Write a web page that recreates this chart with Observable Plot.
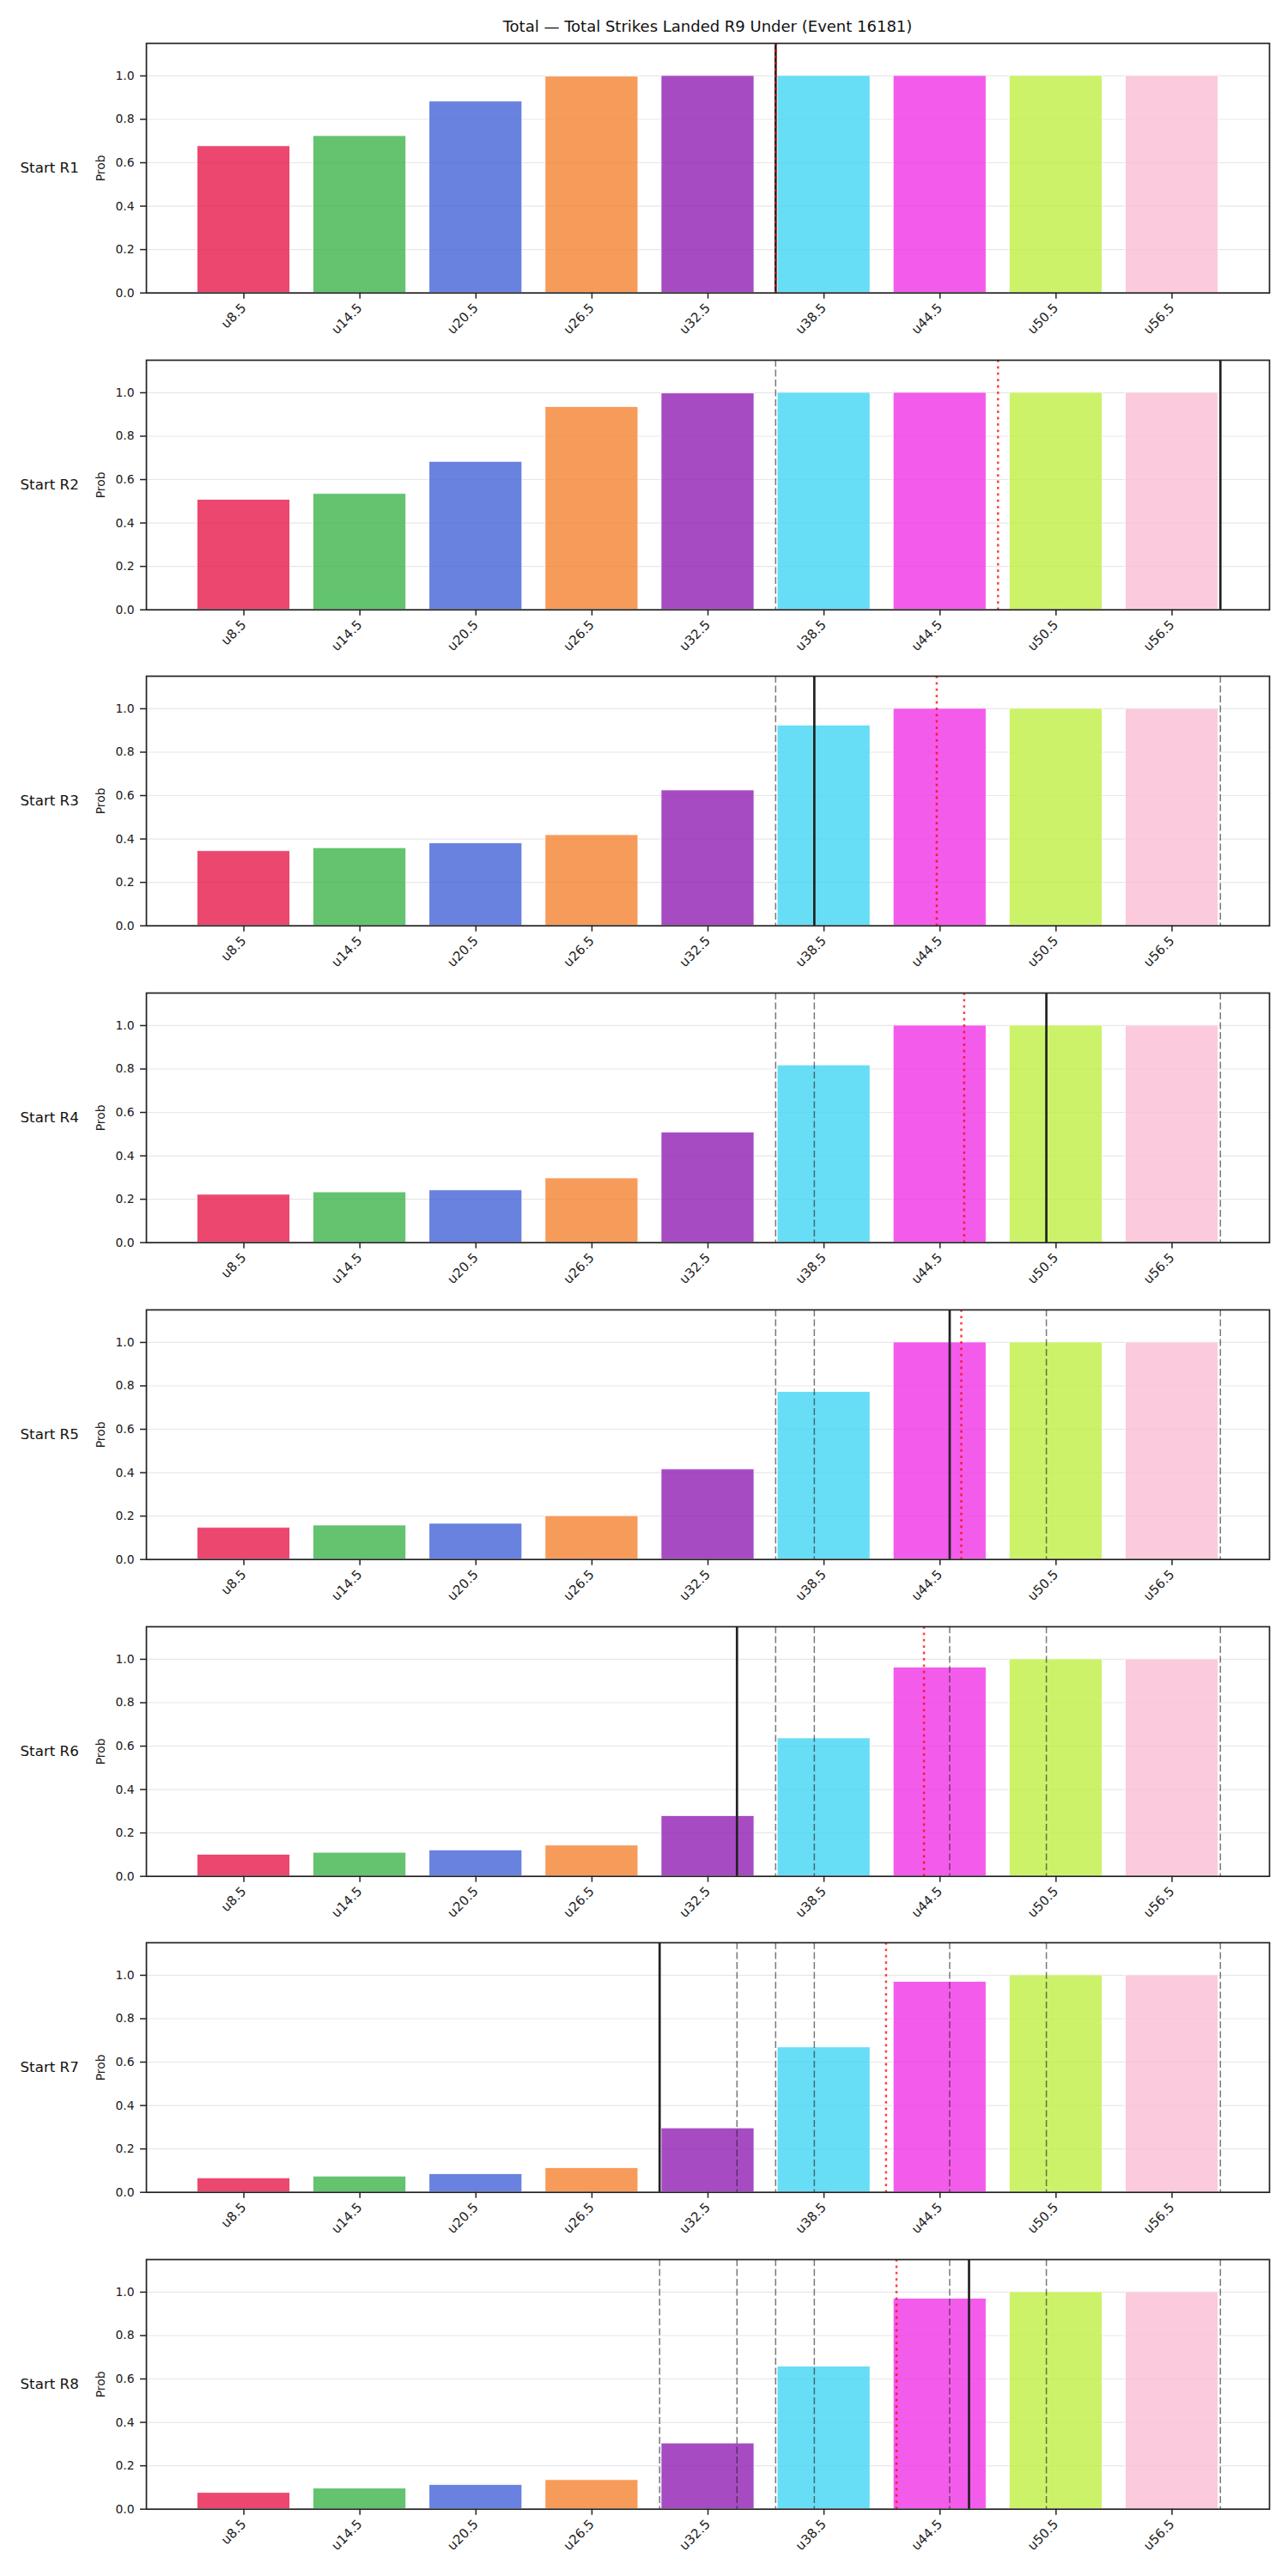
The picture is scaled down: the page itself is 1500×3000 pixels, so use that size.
<!DOCTYPE html>
<html>
<head>
<meta charset="utf-8">
<script src="https://cdn.jsdelivr.net/npm/d3@7"></script>
<script src="https://cdn.jsdelivr.net/npm/@observablehq/plot@0.6"></script>
<style>
  body { margin: 0; background: #fff; font-family: "DejaVu Sans", sans-serif; }
  #chart { position: relative; width: 1500px; height: 3000px; }
  #title { position: absolute; left: 324px; width: 1000px; top: 20px; line-height: 22px;
           text-align: center; font-size: 18px; color: #111; }
  .panel { position: absolute; left: 0; }
</style>
</head>
<body>
<div id="chart">
  <div id="title">Total — Total Strikes Landed R9 Under (Event 16181)</div>
</div>
<script>
// Under lines for total strikes landed, and the bar colour of each line
const thresholds = [8.5, 14.5, 20.5, 26.5, 32.5, 38.5, 44.5, 50.5, 56.5];
const tickLabels = ["u8.5", "u14.5", "u20.5", "u26.5", "u32.5", "u38.5", "u44.5", "u50.5", "u56.5"];
const barColors = ["#e6194b", "#3cb44b", "#4363d8", "#f58231", "#911eb4",
                   "#42d4f4", "#f032e6", "#bfef45", "#fabed4"];

// One row per starting round
const rounds = ["Start R1", "Start R2", "Start R3", "Start R4",
                "Start R5", "Start R6", "Start R7", "Start R8"];

// Probability of the Under for each line, from each starting round
const probR1 = [0.676, 0.723, 0.882, 0.997, 1.000, 1.000, 1.000, 1.000, 1.000];
const probR2 = [0.507, 0.534, 0.682, 0.934, 0.997, 1.000, 1.000, 1.000, 1.000];
const probR3 = [0.344, 0.358, 0.380, 0.418, 0.624, 0.923, 1.000, 1.000, 1.000];
const probR4 = [0.221, 0.232, 0.241, 0.296, 0.508, 0.817, 1.000, 1.000, 1.000];
const probR5 = [0.146, 0.157, 0.165, 0.200, 0.415, 0.772, 1.000, 1.000, 1.000];
const probR6 = [0.100, 0.109, 0.120, 0.142, 0.278, 0.636, 0.962, 1.000, 1.000];
const probR7 = [0.065, 0.073, 0.084, 0.112, 0.295, 0.668, 0.970, 1.000, 1.000];
const probR8 = [0.075, 0.095, 0.112, 0.134, 0.303, 0.657, 0.970, 1.000, 1.000];
const probs = [probR1, probR2, probR3, probR4, probR5, probR6, probR7, probR8];

// Observed total for each round (solid), and the running average (red dotted)
const actualTotals = [36, 59, 38, 50, 45, 34, 30, 46];
const runningMean = [36, 47.5, 44.33, 45.75, 45.6, 43.67, 41.71, 42.25];

const yTicks = [0, 0.2, 0.4, 0.6, 0.8, 1.0];

// Bars are 0.8 of the spacing between lines; axis padded by 5% either side
const step = thresholds[1] - thresholds[0];
const half = 0.4 * step;
const lo = thresholds[0] - half, hi = thresholds[thresholds.length - 1] + half;
const pad = 0.05 * (hi - lo);
const xDomain = [lo - pad, hi + pad];

const W = 1500, H = 368.7;
const M = {left: 170, right: 22, top: 10, bottom: 68};

function panel(i) {
  const rows = thresholds.map((t, j) => ({t, p: probs[i][j], color: barColors[j]}));
  return Plot.plot({
    width: W, height: H,
    marginLeft: M.left, marginRight: M.right, marginTop: M.top, marginBottom: M.bottom,
    style: {fontFamily: "DejaVu Sans", fontSize: "13.9px", color: "#222", background: "white", overflow: "visible"},
    x: {type: "linear", domain: xDomain},
    y: {domain: [0, 1.15]},
    color: {type: "identity"},
    marks: [
      Plot.gridY(yTicks, {stroke: "#b0b0b0", strokeOpacity: 0.3, strokeWidth: 1.1}),
      Plot.rectY(rows, {
        x1: d => d.t - half, x2: d => d.t + half, y1: 0, y2: "p",
        fill: "color", fillOpacity: 0.8, stroke: "white", strokeWidth: 0.8
      }),
      Plot.ruleX(actualTotals.slice(0, i), {stroke: "#222", strokeOpacity: 0.6, strokeWidth: 1.5, strokeDasharray: "8,3.5"}),
      Plot.ruleX([actualTotals[i]], {stroke: "#222", strokeWidth: 2.7}),
      Plot.ruleX([runningMean[i]], {stroke: "red", strokeOpacity: 0.75, strokeWidth: 2.5, strokeDasharray: "2.8,4.6"}),
      Plot.frame({stroke: "#222", strokeWidth: 1.7}),
      Plot.axisX(thresholds, {
        tickFormat: d => tickLabels[thresholds.indexOf(d)],
        tickRotate: -45, tickSize: 7, tickPadding: 8, strokeWidth: 1.5,
        fontSize: 15, label: null
      }),
      Plot.axisY(yTicks, {
        tickFormat: d3.format(".1f"), tickSize: 7, tickPadding: 7, strokeWidth: 1.5, label: null
      }),
      // y-axis title
      Plot.text(["Prob"], {
        text: d => d, frameAnchor: "left", dx: -53, rotate: -90,
        textAnchor: "middle", fontSize: 13.9, fill: "#222"
      }),
      // round label at the far left
      Plot.text([rounds[i]], {
        text: d => d, frameAnchor: "left", dx: -147, textAnchor: "start",
        fontSize: 16.7, fill: "#111"
      })
    ]
  });
}

const chart = document.getElementById("chart");
for (let i = 0; i < rounds.length; i++) {
  const svg = panel(i);
  svg.classList.add("panel");
  svg.style.top = (40 + i * H) + "px";
  chart.appendChild(svg);
}
</script>
</body>
</html>
